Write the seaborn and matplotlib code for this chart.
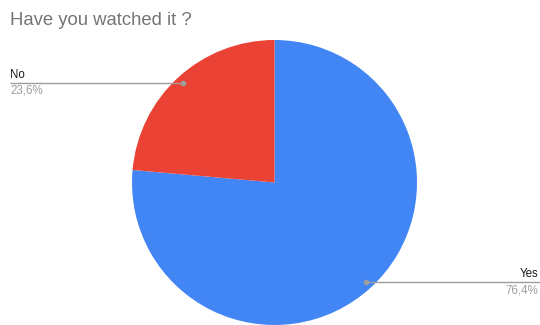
import numpy as np
import matplotlib
matplotlib.use("Agg")
import matplotlib.pyplot as plt
import seaborn as sns

# Data
labels = ["Yes", "No"]
shares = [76.4, 23.6]
colors = ["#4285F4", "#EA4335"]
title = "Have you watched it ?"

sns.set_theme(style="white")
plt.rcParams['font.family'] = ['Liberation Sans', 'DejaVu Sans']

W, H = 540, 325
fig = plt.figure(figsize=(W / 100, H / 100), dpi=100)
ax = fig.add_axes([0, 0, 1, 1])

cx, cy, r = 274.5, H - 182.5, 142.5
wedges, _ = ax.pie(shares, colors=colors, startangle=90, counterclock=False,
                   center=(cx, cy), radius=r, frame=True,
                   wedgeprops=dict(linewidth=0))
ax.set_xlim(0, W)
ax.set_ylim(0, H)
ax.set_aspect('equal')
ax.axis('off')

# leader lines + labels
for w, lab, val in zip(wedges, labels, shares):
    mid = np.deg2rad((w.theta1 + w.theta2) / 2)
    px = cx + 0.95 * r * np.cos(mid)
    py = cy + 0.95 * r * np.sin(mid)
    if px < cx:
        x_end, ha, tx = 10, 'left', 10
    else:
        x_end, ha, tx = W, 'right', W - 2
    ax.plot([px, x_end], [py, py], color='#9e9e9e', lw=1, solid_capstyle='butt')
    ax.plot([px], [py], 'o', color='#9e9e9e', ms=3)
    ax.text(tx, py + 2, lab, ha=ha, va='bottom', fontsize=8.3, color='#1a1a1a')
    ax.text(tx, py - 2, f"{val:.1f}%".replace('.', ','), ha=ha, va='top',
            fontsize=8.3, color='#9e9e9e')

fig.text(10 / W, 1 - 25 / H, title, ha='left', va='baseline',
         fontsize=13.3, color='#757575')

fig.savefig("out.png", dpi=100)
